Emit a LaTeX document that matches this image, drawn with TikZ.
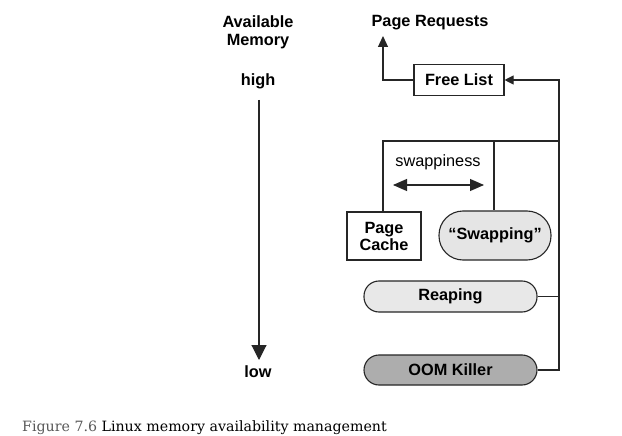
\documentclass[tikz,border=0pt]{standalone}
\usepackage{fontspec}
\setmainfont{Liberation Sans}
\newfontfamily\capfont{DejaVu Serif}
\usetikzlibrary{arrows.meta}
\begin{document}
\begin{tikzpicture}[x=1pt,y=-1pt,
  lbl/.style={font=\fontsize{16.3}{18}\selectfont\bfseries, inner sep=0pt, align=center},
  boxstyle/.style={draw=black!85, line width=1.1pt, font=\fontsize{16.3}{18}\selectfont\bfseries, align=center, inner sep=0pt},
  conn/.style={draw=black!85, line width=1.1pt},
  tip/.style={-{Triangle[length=9pt,width=9pt]}},
  uptip/.style={-{Triangle[length=11pt,width=10pt]}},
  bigtip/.style={-{Triangle[length=15pt,width=15pt]}}
]
\path[use as bounding box, fill=white] (0,0) rectangle (622,436);

% left scale
\node[lbl, anchor=base] (avail) at (258,28) {Available};
\node[lbl, anchor=base] (mem) at (258,46) {Memory};
\node[lbl, anchor=base] (high) at (258,85) {high};
\node[lbl, anchor=base] (low) at (258,377) {low};
\coordinate (atop) at (259,100);
\coordinate (abot) at (259,360);
\draw[conn, bigtip] (atop) -- (abot);

% right part
\node[lbl, anchor=base] (req) at (430,27) {Page Requests};
\node[boxstyle, minimum width=90pt, minimum height=31pt] (free) at (459,80) {Free List};
\node[boxstyle, minimum width=74pt, minimum height=48pt] (cache) at (384,236) {Page\\[-1pt]Cache};
\node[boxstyle, fill=black!10, rounded corners=24pt, minimum width=112pt, minimum height=49pt] (swap) at (495,235.5) {``Swapping''};
\node[boxstyle, fill=black!9, rounded corners=15pt, minimum width=173pt, minimum height=31pt] (reap) at (450.5,296.5) {Reaping};
\node[boxstyle, fill=black!32, rounded corners=15pt, minimum width=173pt, minimum height=30pt] (oom) at (450.5,370) {OOM Killer};
\node[font=\fontsize{16.3}{18}\selectfont, inner sep=0pt, anchor=base] (swp) at (438,167) {swappiness};

\coordinate (rt) at (559,80);
\coordinate (rj) at (559,141);
\coordinate (rb) at (559,370);
\coordinate (cj) at (383,141);
\coordinate (sj) at (494,141);
\coordinate (pl) at (383,80);
\coordinate (pu) at (383,36);
\coordinate (dl) at (393,185);
\coordinate (dr) at (484,185);

\draw[conn, tip] (oom.east) -- (rb) -- (rt) -- (free.east);
\draw[conn] (reap.east) -- (reap.east -| rb);
\draw[conn] (rj) -- (cj) -- (cj |- cache.north);
\draw[conn] (sj) -- (sj |- swap.north);
\draw[conn, uptip] (free.west) -- (pl) -- (pu);
\draw[conn, {Triangle[length=14pt,width=12pt]}-{Triangle[length=14pt,width=12pt]}] (dl) -- (dr);

% caption
\node[font=\capfont\fontsize{14.2}{16}\selectfont, anchor=base west, inner sep=0pt] (cap) at (22,431) {\textcolor{black!65}{Figure 7.6} Linux memory availability management};
\end{tikzpicture}
\end{document}
